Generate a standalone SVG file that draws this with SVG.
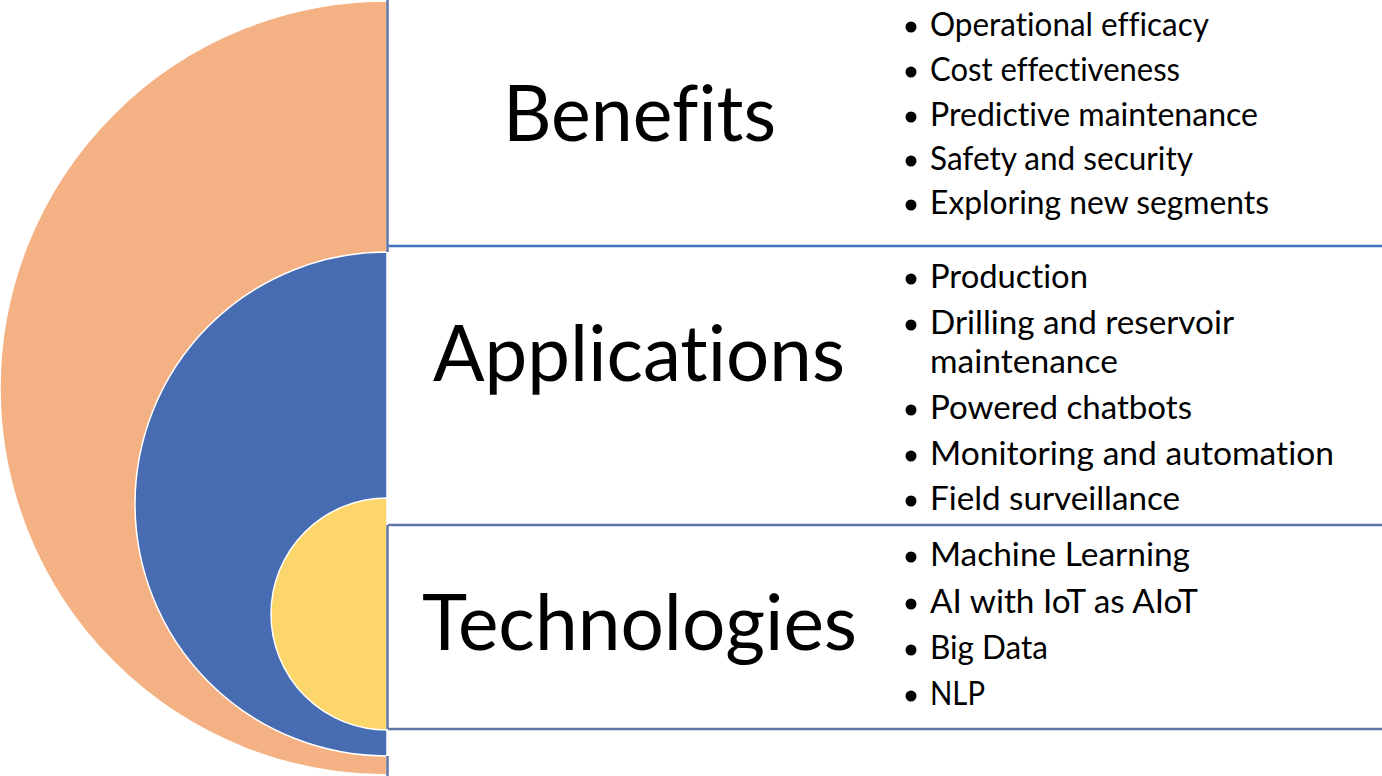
<svg xmlns="http://www.w3.org/2000/svg" width="1382" height="776" viewBox="0 0 1382 776">
<style>
.title{font-family:Lato,"Open Sans","Liberation Sans",sans-serif;font-size:77px;fill:#000;font-variant-ligatures:none;font-feature-settings:"liga" 0,"clig" 0,"dlig" 0}
.item{font-family:Lato,"Open Sans","Liberation Sans",sans-serif;font-size:33.5px;fill:#000;font-variant-ligatures:none;font-feature-settings:"liga" 0,"clig" 0,"dlig" 0}
.dot{fill:#000}
.ring{stroke:#fff;stroke-width:1.5}
.div{stroke:#5F76A6;stroke-width:2.5;fill:none}
.divb{stroke:#4472C4;stroke-width:2.5;fill:none}
</style>
<rect width="1382" height="776" fill="#fff"/>
<g id="panel-lines">
<line class="divb" x1="387" y1="246" x2="1382" y2="246"/>
<line class="div" x1="387" y1="525" x2="1382" y2="525"/>
<line class="div" x1="387" y1="729" x2="1382" y2="729"/>
</g>
<g id="ring-benefits">
<path class="ring" fill="#F4B183" d="M387,1 A387,387 0 0 0 387,775 Z"/>
</g>
<g id="ring-applications">
<path class="ring" fill="#476CB2" d="M387,252 A252,252 0 0 0 387,756 Z"/>
</g>
<g id="ring-technologies">
<path class="ring" fill="#FCD66B" d="M387,498 A116,116 0 0 0 387,730 Z"/>
</g>
<g id="edge-lines">
<line class="div" x1="387.5" y1="0" x2="387.5" y2="252"/>
<line class="div" x1="387.5" y1="525" x2="387.5" y2="729"/>
<line class="div" x1="387.5" y1="756" x2="387.5" y2="776"/>
</g>
<g id="benefits">
<text class="title" x="503" y="141" textLength="273" lengthAdjust="spacingAndGlyphs">Benefits</text>
<circle class="dot" cx="911" cy="27" r="5.5"/>
<text class="item" x="930" y="36" textLength="279" lengthAdjust="spacingAndGlyphs">Operational efficacy</text>
<circle class="dot" cx="911" cy="72" r="5.5"/>
<text class="item" x="930" y="81" textLength="250" lengthAdjust="spacingAndGlyphs">Cost effectiveness</text>
<circle class="dot" cx="911" cy="117" r="5.5"/>
<text class="item" x="930" y="126" textLength="328" lengthAdjust="spacingAndGlyphs">Predictive maintenance</text>
<circle class="dot" cx="911" cy="161" r="5.5"/>
<text class="item" x="930" y="170" textLength="263" lengthAdjust="spacingAndGlyphs">Safety and security</text>
<circle class="dot" cx="911" cy="205" r="5.5"/>
<text class="item" x="930" y="214" textLength="339" lengthAdjust="spacingAndGlyphs">Exploring new segments</text>
</g>
<g id="applications">
<text class="title" x="433" y="381" textLength="412" lengthAdjust="spacingAndGlyphs">Applications</text>
<circle class="dot" cx="911" cy="279" r="5.5"/>
<text class="item" x="930" y="288" textLength="158" lengthAdjust="spacingAndGlyphs">Production</text>
<circle class="dot" cx="911" cy="325" r="5.5"/>
<text class="item" x="930" y="334" textLength="304" lengthAdjust="spacingAndGlyphs">Drilling and reservoir</text>
<text class="item" x="930" y="373" textLength="188" lengthAdjust="spacingAndGlyphs">maintenance</text>
<circle class="dot" cx="911" cy="410" r="5.5"/>
<text class="item" x="930" y="419" textLength="262" lengthAdjust="spacingAndGlyphs">Powered chatbots</text>
<circle class="dot" cx="911" cy="456" r="5.5"/>
<text class="item" x="930" y="465" textLength="404" lengthAdjust="spacingAndGlyphs">Monitoring and automation</text>
<circle class="dot" cx="911" cy="501" r="5.5"/>
<text class="item" x="930" y="510" textLength="250" lengthAdjust="spacingAndGlyphs">Field surveillance</text>
</g>
<g id="technologies">
<text class="title" x="422" y="650" textLength="435" lengthAdjust="spacingAndGlyphs">Technologies</text>
<circle class="dot" cx="911" cy="557" r="5.5"/>
<text class="item" x="930" y="566" textLength="260" lengthAdjust="spacingAndGlyphs">Machine Learning</text>
<circle class="dot" cx="911" cy="604" r="5.5"/>
<text class="item" x="930" y="613" textLength="268" lengthAdjust="spacingAndGlyphs">AI with IoT as AIoT</text>
<circle class="dot" cx="911" cy="650" r="5.5"/>
<text class="item" x="930" y="659" textLength="118" lengthAdjust="spacingAndGlyphs">Big Data</text>
<circle class="dot" cx="911" cy="696" r="5.5"/>
<text class="item" x="930" y="705" textLength="55" lengthAdjust="spacingAndGlyphs">NLP</text>
</g>
</svg>
